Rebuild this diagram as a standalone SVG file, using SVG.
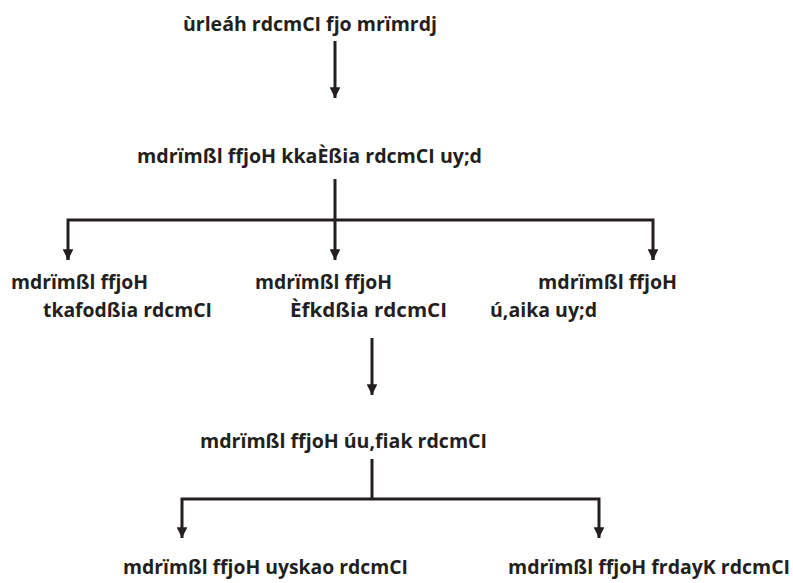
<svg xmlns="http://www.w3.org/2000/svg" width="793" height="583" viewBox="0 0 793 583">
<style>
text{font-family:"Open Sans","Noto Sans","Liberation Sans",sans-serif;font-weight:bold;font-size:19px;fill:#231f20}
.c{stroke:#231f20;stroke-width:3;fill:none}
</style>
<defs>
<marker id="ah" viewBox="0 0 10 10" refX="10" refY="5" markerWidth="3.6" markerHeight="3.6" markerUnits="strokeWidth" orient="auto">
<path d="M0,0L10,5L0,10z" fill="#231f20"/>
</marker>
</defs>
<rect width="793" height="583" fill="#fff"/>
<g id="connectors">
<line class="c" x1="335" y1="41" x2="335" y2="98" marker-end="url(#ah)"/>
<line class="c" x1="335" y1="179" x2="335" y2="260" marker-end="url(#ah)"/>
<polyline class="c" points="68,260 68,220 653,220 653,260"/>
<line class="c" x1="68" y1="250" x2="68" y2="260" marker-end="url(#ah)"/>
<line class="c" x1="653" y1="250" x2="653" y2="260" marker-end="url(#ah)"/>
<line class="c" x1="372" y1="338" x2="372" y2="395" marker-end="url(#ah)"/>
<line class="c" x1="372" y1="459" x2="372" y2="499"/>
<polyline class="c" points="182,530 182,499 599,499 599,530"/>
<line class="c" x1="182" y1="528" x2="182" y2="538" marker-end="url(#ah)"/>
<line class="c" x1="599" y1="528" x2="599" y2="538" marker-end="url(#ah)"/>
</g>
<g id="n1"><text x="183" y="31" textLength="254" lengthAdjust="spacingAndGlyphs">ùrleáh rdcmCI fjo mrïmrdj</text></g>
<g id="n2"><text x="137" y="163" textLength="345" lengthAdjust="spacingAndGlyphs">mdrïmßl ffjoH kkaÈßia rdcmCI uy;d</text></g>
<g id="n3"><text x="11" y="289" textLength="137" lengthAdjust="spacingAndGlyphs">mdrïmßl ffjoH</text><text x="43" y="317" textLength="169" lengthAdjust="spacingAndGlyphs">tkafodßia rdcmCI</text></g>
<g id="n4"><text x="255" y="289" textLength="137" lengthAdjust="spacingAndGlyphs">mdrïmßl ffjoH</text><text x="290" y="317" textLength="157" lengthAdjust="spacingAndGlyphs">Èfkdßia rdcmCI</text></g>
<g id="n5"><text x="538" y="289" textLength="139" lengthAdjust="spacingAndGlyphs">mdrïmßl ffjoH</text><text x="490" y="317" textLength="107" lengthAdjust="spacingAndGlyphs">ú,aika uy;d</text></g>
<g id="n6"><text x="200" y="448" textLength="287" lengthAdjust="spacingAndGlyphs">mdrïmßl ffjoH úu,fiak rdcmCI</text></g>
<g id="n7"><text x="123" y="574" textLength="285" lengthAdjust="spacingAndGlyphs">mdrïmßl ffjoH uyskao rdcmCI</text></g>
<g id="n8"><text x="508" y="574" textLength="282" lengthAdjust="spacingAndGlyphs">mdrïmßl ffjoH frdayK rdcmCI</text></g>
</svg>
